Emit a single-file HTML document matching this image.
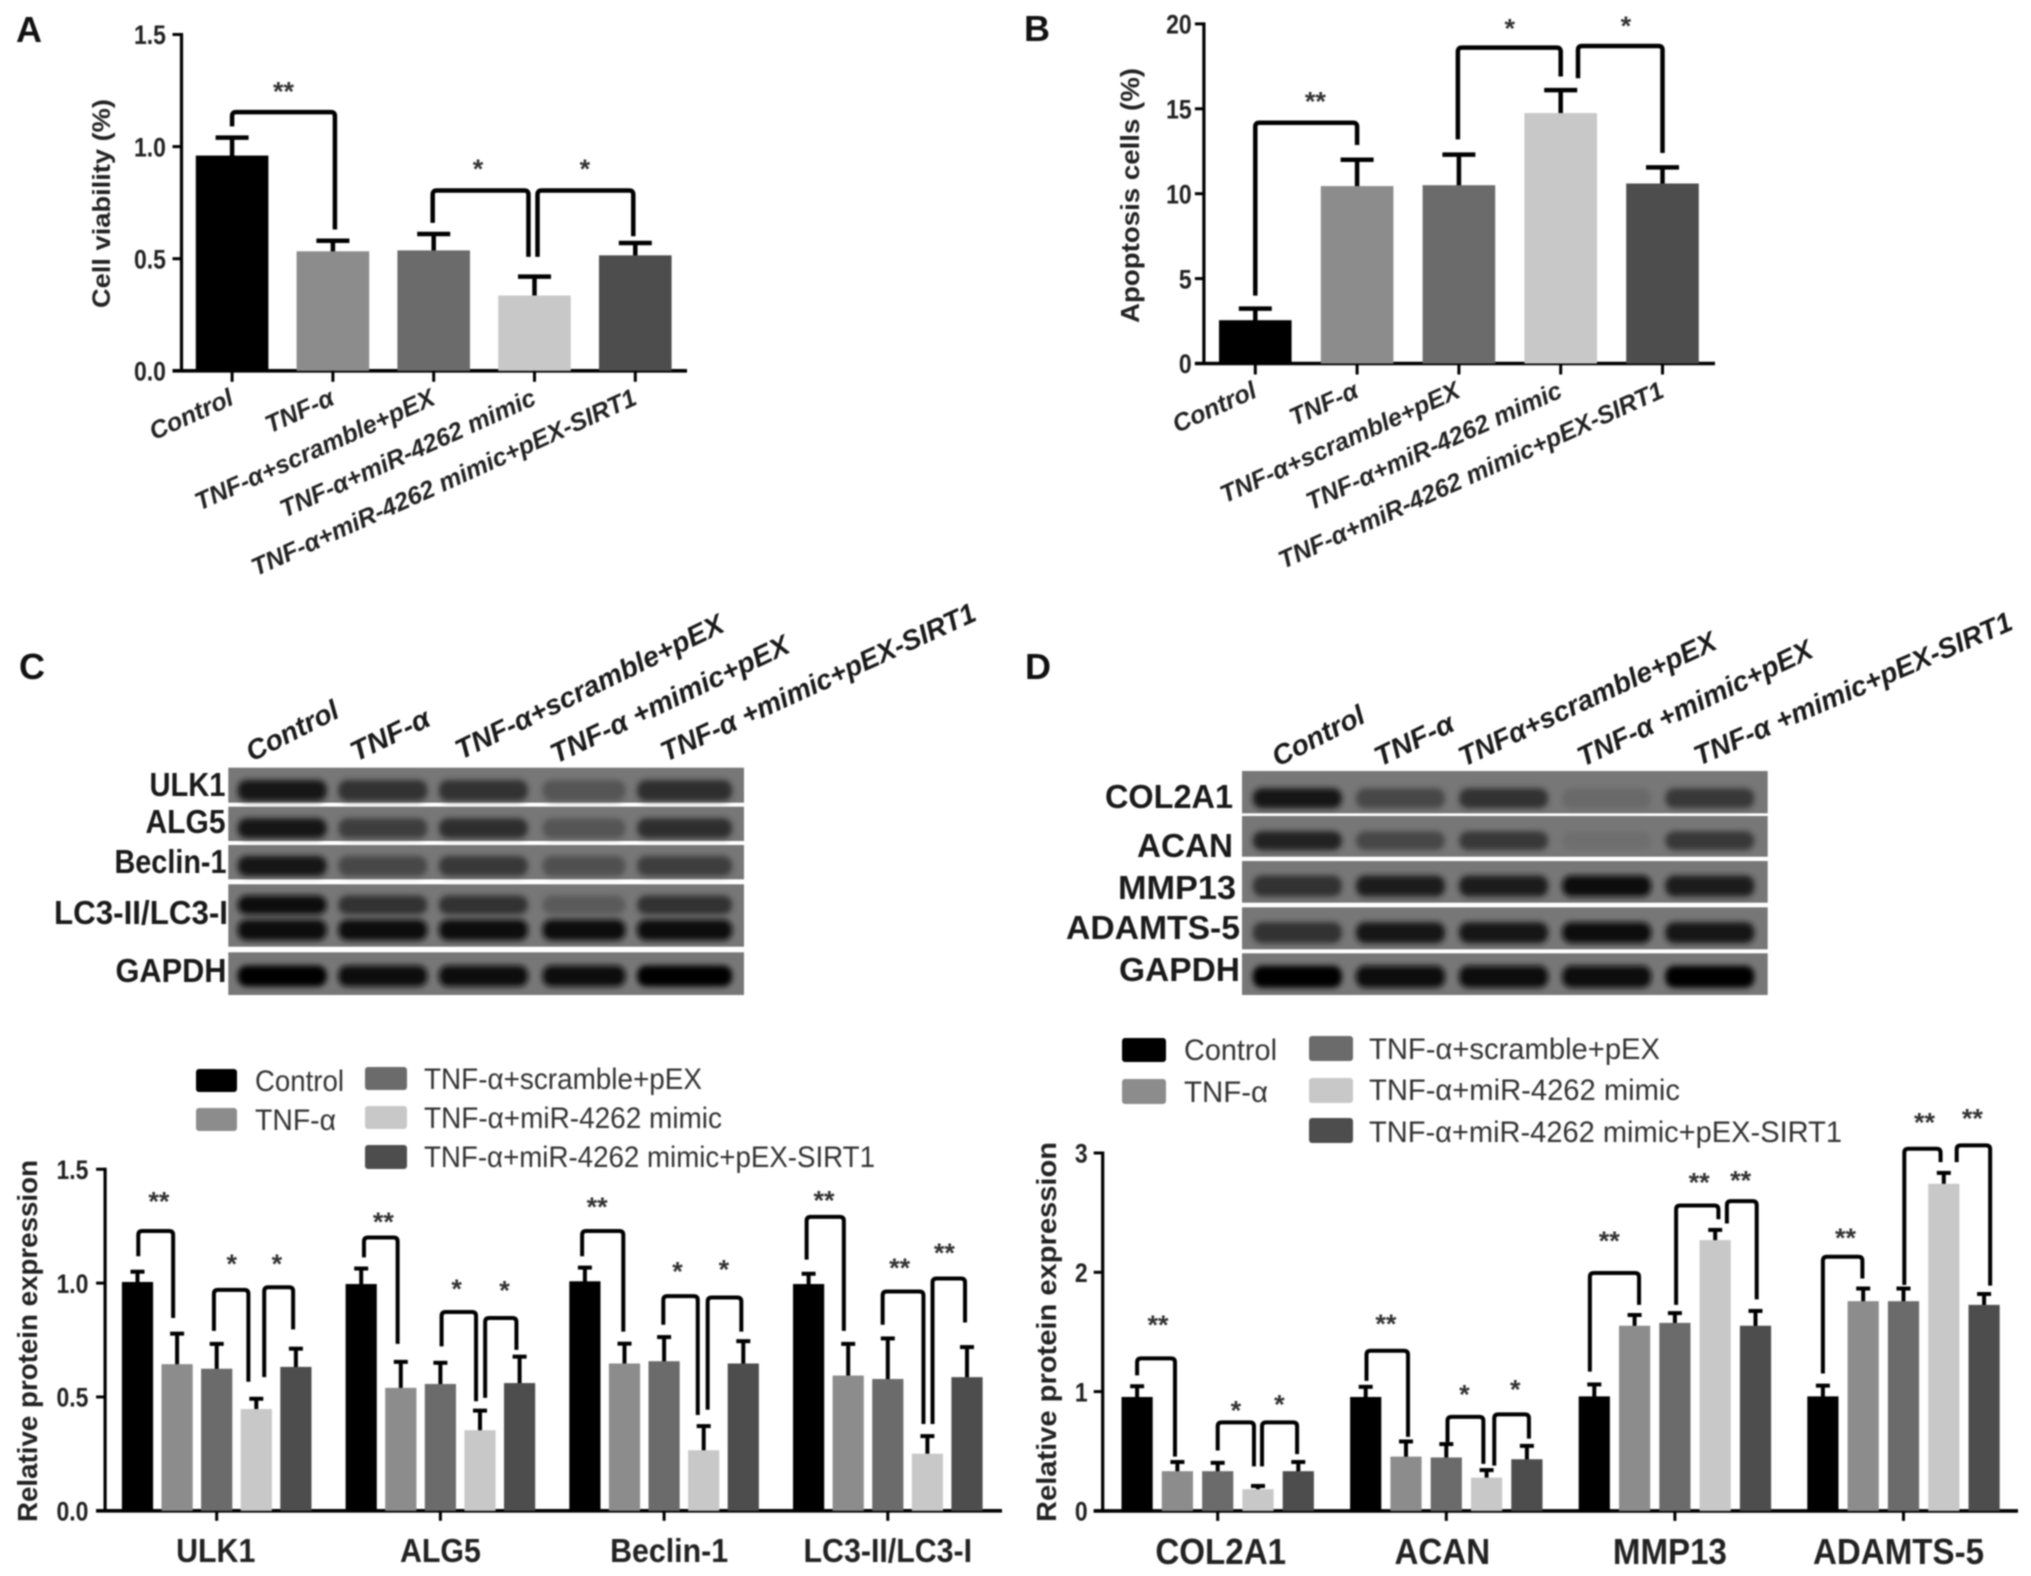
<!DOCTYPE html>
<html lang="en">
<head>
<meta charset="utf-8">
<title>Cell viability, apoptosis and protein expression panels</title>
<style>
html,body{margin:0;padding:0;background:#fff;width:2031px;height:1576px;overflow:hidden}
svg{display:block;filter:blur(0.7px);font-family:"Liberation Sans",sans-serif}
.panel-letter{font-size:36px;font-weight:bold;fill:#111}
.axis-title{font-weight:bold;fill:#222}
.row-label{font-size:33px;font-weight:bold;fill:#1a1a1a}
.lane-label{font-size:28px;font-weight:bold;font-style:italic;fill:#1a1a1a}
.legend-text{font-size:30px;fill:#333}
</style>
</head>
<body>
<svg id="figure" xmlns="http://www.w3.org/2000/svg" width="2031" height="1576" viewBox="0 0 2031 1576">
  <defs>
    <filter id="band-blur" x="-20%" y="-70%" width="140%" height="240%"><feGaussianBlur stdDeviation="3"/></filter>
  </defs>
  <rect width="2031" height="1576" fill="#fff"/>

  <text class="panel-letter" x="16" y="42">A</text>
  <text class="panel-letter" x="1024" y="41">B</text>
  <text class="panel-letter" x="19" y="679">C</text>
  <text class="panel-letter" x="1025" y="679">D</text>

  <text class="axis-title" font-size="25" transform="translate(110,308) rotate(-90)" textLength="209" lengthAdjust="spacingAndGlyphs">Cell viability (%)</text>
  <text class="axis-title" font-size="26" transform="translate(1139,323) rotate(-90)" textLength="255" lengthAdjust="spacingAndGlyphs">Apoptosis cells (%)</text>
  <text class="axis-title" font-size="28" transform="translate(37,1522) rotate(-90)" textLength="362" lengthAdjust="spacingAndGlyphs">Relative protein expression</text>
  <text class="axis-title" font-size="28" transform="translate(1056,1522) rotate(-90)" textLength="380" lengthAdjust="spacingAndGlyphs">Relative protein expression</text>

  <g id="blot-c"></g>
  <g id="blot-d"></g>

  <g>
    <text class="lane-label" transform="translate(252,762) rotate(-27)" textLength="100" lengthAdjust="spacingAndGlyphs">Control</text>
    <text class="lane-label" transform="translate(356,762) rotate(-26)" textLength="85" lengthAdjust="spacingAndGlyphs">TNF-α</text>
    <text class="lane-label" transform="translate(461,760) rotate(-26)" textLength="295" lengthAdjust="spacingAndGlyphs">TNF-α+scramble+pEX</text>
    <text class="lane-label" transform="translate(556,764) rotate(-25.5)" textLength="261" lengthAdjust="spacingAndGlyphs">TNF-α +mimic+pEX</text>
    <text class="lane-label" transform="translate(666,762) rotate(-24.5)" textLength="343" lengthAdjust="spacingAndGlyphs">TNF-α +mimic+pEX-SIRT1</text>
  </g>
  <g>
    <text class="row-label" x="149.5" y="796" textLength="76" lengthAdjust="spacingAndGlyphs">ULK1</text>
    <text class="row-label" x="145.5" y="833" textLength="80" lengthAdjust="spacingAndGlyphs">ALG5</text>
    <text class="row-label" x="114.5" y="873" textLength="112" lengthAdjust="spacingAndGlyphs">Beclin-1</text>
    <text class="row-label" x="54" y="924" textLength="174" lengthAdjust="spacingAndGlyphs">LC3-II/LC3-I</text>
    <text class="row-label" x="115.5" y="982" textLength="111" lengthAdjust="spacingAndGlyphs">GAPDH</text>
  </g>

  <g>
    <text class="lane-label" transform="translate(1278,767) rotate(-27)" textLength="100" lengthAdjust="spacingAndGlyphs">Control</text>
    <text class="lane-label" transform="translate(1380,767) rotate(-26)" textLength="85" lengthAdjust="spacingAndGlyphs">TNF-α</text>
    <text class="lane-label" transform="translate(1464,767) rotate(-25)" textLength="281" lengthAdjust="spacingAndGlyphs">TNFα+scramble+pEX</text>
    <text class="lane-label" transform="translate(1583,767) rotate(-25.5)" textLength="257" lengthAdjust="spacingAndGlyphs">TNF-α +mimic+pEX</text>
    <text class="lane-label" transform="translate(1699,766) rotate(-23.5)" textLength="344" lengthAdjust="spacingAndGlyphs">TNF-α +mimic+pEX-SIRT1</text>
  </g>
  <g>
    <text class="row-label" x="1105" y="808" textLength="128" lengthAdjust="spacingAndGlyphs">COL2A1</text>
    <text class="row-label" x="1137" y="857" textLength="96" lengthAdjust="spacingAndGlyphs">ACAN</text>
    <text class="row-label" x="1118" y="899" textLength="118" lengthAdjust="spacingAndGlyphs">MMP13</text>
    <text class="row-label" x="1066" y="939" textLength="174" lengthAdjust="spacingAndGlyphs">ADAMTS-5</text>
    <text class="row-label" x="1119" y="981" textLength="121" lengthAdjust="spacingAndGlyphs">GAPDH</text>
  </g>

  <g>
    <rect x="196" y="1069" width="41" height="23" rx="3" fill="#000"/>
    <rect x="196" y="1108" width="41" height="23" rx="3" fill="#8c8c8c"/>
    <rect x="365" y="1067" width="42" height="23" rx="3" fill="#6b6b6b"/>
    <rect x="365" y="1106" width="42" height="23" rx="3" fill="#c8c8c8"/>
    <rect x="365" y="1145" width="42" height="24" rx="3" fill="#4d4d4d"/>
    <text class="legend-text" x="255" y="1091" textLength="89" lengthAdjust="spacingAndGlyphs">Control</text>
    <text class="legend-text" x="255" y="1130" textLength="81" lengthAdjust="spacingAndGlyphs">TNF-α</text>
    <text class="legend-text" x="424" y="1089" textLength="278" lengthAdjust="spacingAndGlyphs">TNF-α+scramble+pEX</text>
    <text class="legend-text" x="424" y="1128" textLength="298" lengthAdjust="spacingAndGlyphs">TNF-α+miR-4262 mimic</text>
    <text class="legend-text" x="424" y="1167" textLength="451" lengthAdjust="spacingAndGlyphs">TNF-α+miR-4262 mimic+pEX-SIRT1</text>
  </g>
  <g>
    <rect x="1122" y="1038" width="44" height="24" rx="3" fill="#000"/>
    <rect x="1122" y="1079" width="44" height="25" rx="3" fill="#8c8c8c"/>
    <rect x="1309" y="1036" width="44" height="25" rx="3" fill="#6b6b6b"/>
    <rect x="1309" y="1078" width="44" height="25" rx="3" fill="#c8c8c8"/>
    <rect x="1309" y="1118" width="44" height="25" rx="3" fill="#4d4d4d"/>
    <text class="legend-text" x="1184" y="1060" textLength="93" lengthAdjust="spacingAndGlyphs">Control</text>
    <text class="legend-text" x="1184" y="1102" textLength="84" lengthAdjust="spacingAndGlyphs">TNF-α</text>
    <text class="legend-text" x="1369" y="1059" textLength="291" lengthAdjust="spacingAndGlyphs">TNF-α+scramble+pEX</text>
    <text class="legend-text" x="1369" y="1100" textLength="311" lengthAdjust="spacingAndGlyphs">TNF-α+miR-4262 mimic</text>
    <text class="legend-text" x="1369" y="1142" textLength="473" lengthAdjust="spacingAndGlyphs">TNF-α+miR-4262 mimic+pEX-SIRT1</text>
  </g>

  <g id="panel-a"></g>
  <g id="panel-b"></g>
  <g id="panel-c"></g>
  <g id="panel-d"></g>
</svg>

<script>
// ---------- Shared ----------
const seriesColors = ['#000000', '#8c8c8c', '#6b6b6b', '#c8c8c8', '#4d4d4d'];
const treatmentLabels = ['Control', 'TNF-α', 'TNF-α+scramble+pEX', 'TNF-α+miR-4262 mimic', 'TNF-α+miR-4262 mimic+pEX-SIRT1'];

// ---------- Panel A ----------
const panelATicks = ['0.0', '0.5', '1.0', '1.5'];
const panelAValues = [0.96, 0.533, 0.537, 0.336, 0.515];
const panelAErrorTops = [1.04, 0.58, 0.61, 0.42, 0.57];
// from bar, to bar, bracket top, left end, right end
const panelABrackets = [[0, 1.02, 1.154, 1.09, 0.63], [1.99, 2.94, 0.804, 0.66, 0.508], [3.03, 3.98, 0.804, 0.508, 0.60]];
const panelAStars = [[0.51, 1.274, '**'], [2.44, 0.929, '*'], [3.5, 0.929, '*']];

// ---------- Panel B ----------
const panelBTicks = ['0', '5', '10', '15', '20'];
const panelBValues = [2.55, 10.45, 10.5, 14.75, 10.6];
const panelBErrorTops = [3.23, 12.0, 12.3, 16.1, 11.55];
const panelBBrackets = [[0, 1, 14.18, 4.0, 12.87], [1.99, 3.0, 18.6, 13.2, 16.9], [3.17, 4.0, 18.7, 16.8, 12.4]];
const panelBStars = [[0.59, 15.8, '**'], [2.5, 20.1, '*'], [3.64, 20.27, '*']];

// ---------- Panel C ----------
const panelCTicks = ['0.0', '0.5', '1.0', '1.5'];
const panelCGroups = ['ULK1', 'ALG5', 'Beclin-1', 'LC3-II/LC3-I'];
const panelCControl = [1.005, 0.996, 1.008, 0.996];
const panelCTnf = [0.644, 0.54, 0.647, 0.594];
const panelCScramble = [0.624, 0.557, 0.657, 0.579];
const panelCMimic = [0.447, 0.354, 0.266, 0.251];
const panelCSirt1 = [0.632, 0.561, 0.647, 0.587];
const panelCControlErr = [1.05, 1.064, 1.068, 1.041];
const panelCTnfErr = [0.778, 0.654, 0.734, 0.733];
const panelCScrambleErr = [0.733, 0.65, 0.763, 0.757];
const panelCMimicErr = [0.492, 0.44, 0.372, 0.328];
const panelCSirt1Err = [0.712, 0.677, 0.745, 0.719];
// group, from bar, to bar, bracket top, left end, right end
const panelCBrackets = [
  [0, 0.02, 0.9, 1.229, 1.118, 0.847], [0, 1.93, 2.8, 0.97, 0.79, 0.567], [0, 3.2, 3.93, 0.982, 0.587, 0.797],
  [1, 0.07, 0.92, 1.2, 1.113, 0.733], [1, 2.03, 2.9, 0.873, 0.722, 0.481], [1, 3.13, 3.92, 0.847, 0.496, 0.707],
  [2, -0.07, 0.97, 1.229, 1.118, 0.787], [2, 1.98, 2.85, 0.943, 0.817, 0.421], [2, 3.1, 3.95, 0.937, 0.444, 0.787],
  [3, -0.05, 0.89, 1.291, 1.103, 0.79], [3, 1.87, 2.9, 0.963, 0.817, 0.381], [3, 3.13, 3.95, 1.02, 0.381, 0.827]
];
const panelCStars = [
  [0, 0.54, 1.387, '**'], [0, 2.38, 1.113, '*'], [0, 3.52, 1.113, '*'],
  [1, 0.56, 1.297, '**'], [1, 2.41, 1.003, '*'], [1, 3.62, 0.997, '*'],
  [2, 0.31, 1.362, '**'], [2, 2.34, 1.08, '*'], [2, 3.51, 1.088, '*'],
  [3, 0.39, 1.392, '**'], [3, 2.3, 1.094, '**'], [3, 3.43, 1.161, '**']
];

// ---------- Panel D ----------
const panelDTicks = ['0', '1', '2', '3'];
const panelDGroups = ['COL2A1', 'ACAN', 'MMP13', 'ADAMTS-5'];
const panelDControl = [0.955, 0.955, 0.96, 0.96];
const panelDTnf = [0.333, 0.455, 1.552, 1.758];
const panelDScramble = [0.333, 0.448, 1.576, 1.758];
const panelDMimic = [0.182, 0.279, 2.27, 2.742];
const panelDSirt1 = [0.333, 0.433, 1.552, 1.727];
const panelDControlErr = [1.045, 1.04, 1.06, 1.05];
const panelDTnfErr = [0.41, 0.582, 1.642, 1.864];
const panelDScrambleErr = [0.403, 0.56, 1.658, 1.864];
const panelDMimicErr = [0.209, 0.342, 2.355, 2.833];
const panelDSirt1Err = [0.41, 0.545, 1.676, 1.818];
const panelDBrackets = [
  [0, 0, 0.94, 1.279, 1.136, 0.455], [0, 2, 2.9, 0.742, 0.506, 0.373], [0, 3.1, 3.97, 0.742, 0.373, 0.476],
  [1, 0.02, 1.05, 1.342, 1.09, 0.621], [1, 2.03, 2.92, 0.788, 0.576, 0.394], [1, 3.19, 4.05, 0.809, 0.379, 0.606],
  [2, -0.11, 1.11, 1.994, 1.167, 1.727], [2, 2.03, 3.08, 2.56, 1.727, 2.445], [2, 3.29, 4.03, 2.597, 2.409, 1.773],
  [3, 0, 0.98, 2.13, 1.152, 1.948], [3, 2.02, 2.92, 3.036, 1.894, 2.924], [3, 3.32, 4.15, 3.064, 2.924, 1.888]
];
const panelDStars = [
  [0, 0.52, 1.612, '**'], [0, 2.45, 0.894, '*'], [0, 3.53, 0.948, '*'],
  [1, 0.5, 1.621, '**'], [1, 2.45, 1.03, '*'], [1, 3.71, 1.07, '*'],
  [2, 0.37, 2.318, '**'], [2, 2.6, 2.809, '**'], [2, 3.63, 2.824, '**'],
  [3, 0.56, 2.342, '**'], [3, 2.52, 3.312, '**'], [3, 3.71, 3.342, '**']
];

// ---------- Western blot band darkness (gray level per lane) ----------
const blotCUlk1 = [18, 50, 50, 85, 45];
const blotCAlg5 = [18, 60, 45, 85, 45];
const blotCBeclin = [25, 70, 55, 80, 60];
const blotCLc3Upper = [15, 50, 50, 90, 50];
const blotCLc3Lower = [10, 15, 15, 15, 8];
const blotCGapdh = [5, 8, 8, 8, 5];
const blotDCol2a1 = [20, 70, 50, 105, 55];
const blotDAcan = [35, 70, 55, 110, 55];
const blotDMmp13 = [50, 30, 28, 10, 28];
const blotDAdamts5 = [50, 25, 25, 8, 25];
const blotDGapdh = [5, 8, 10, 10, 5];

const SVG_NS = 'http://www.w3.org/2000/svg';
function add(parent, tag, attrs, text) {
  const el = document.createElementNS(SVG_NS, tag);
  for (const k in attrs) el.setAttribute(k, attrs[k]);
  if (text !== undefined) el.textContent = text;
  parent.appendChild(el);
  return el;
}

function bracketPath(xl, xr, yTop, yl, yr) {
  const r = 4;
  return 'M' + xl + ' ' + yl + 'V' + (yTop + r) + 'Q' + xl + ' ' + yTop + ' ' + (xl + r) + ' ' + yTop +
         'H' + (xr - r) + 'Q' + xr + ' ' + yTop + ' ' + xr + ' ' + (yTop + r) + 'V' + yr;
}

function drawStar(root, x, y, text) {
  const star = add(root, 'text', {x: x, y: y + 15.5, 'text-anchor': 'middle', 'font-size': 27, 'font-weight': 'bold', fill: '#333'}, text);
  
  
}

function drawBar(root, cx, width, base, top, errTop, color, capW, strokeW) {
  const stem = add(root, 'line', {x1: cx, x2: cx, y1: top + 2, y2: errTop, stroke: '#000', 'stroke-width': strokeW});
  
  
  const cap = add(root, 'line', {x1: cx - capW / 2, x2: cx + capW / 2, y1: errTop, y2: errTop, stroke: '#000', 'stroke-width': strokeW});
  
  
  const bar = add(root, 'rect', {x: cx - width / 2, y: top, width: width, height: base - top, fill: color});
  
  
}

function drawYAxis(root, ticks, yScale, axisX, xLeft, xRight, labelGap, fontSize) {
  const yAxis = add(root, 'line', {x1: axisX, x2: axisX, y1: yScale(parseFloat(ticks[ticks.length - 1])) - 1.5, y2: yScale(0) + 1.5, stroke: '#000', 'stroke-width': 3.2});
  
  
  const xAxis = add(root, 'line', {x1: xLeft, x2: xRight, y1: yScale(0), y2: yScale(0), stroke: '#000', 'stroke-width': 3.6});
  
  
  ticks.forEach(function (t) {
    const y = yScale(parseFloat(t));
    const tick = add(root, 'line', {x1: xLeft, x2: axisX, y1: y, y2: y, stroke: '#000', 'stroke-width': 3});
    
    
    const label = add(root, 'text', {transform: 'translate(' + (axisX - labelGap) + ' ' + (y + fontSize * 0.36) + ') scale(0.85 1)', 'text-anchor': 'end', 'font-size': fontSize, 'font-weight': 'bold', fill: '#222'}, t);
    
    
  });
}

function drawSimplePanel(root, ticks, values, errs, brackets, stars, xScale, yScale, axisX, xRight, labelGap) {
  const base = yScale(0);
  drawYAxis(root, ticks, yScale, axisX, axisX - 9, xRight, labelGap, 27);
  values.forEach(function (v, i) {
    drawBar(root, xScale(i), 72.6, base, yScale(v), yScale(errs[i]), seriesColors[i], 33, 4.5);
    const tick = add(root, 'line', {x1: xScale(i), x2: xScale(i), y1: base, y2: base + 11, stroke: '#000', 'stroke-width': 3});
    
    
    const ax = xScale(i) + 3;
    const ay = base + 33;
    const label = add(root, 'text', {x: ax, y: ay, 'text-anchor': 'end', 'font-size': 25, 'font-weight': 'bold', 'font-style': 'italic', fill: '#222', transform: 'rotate(-24.3 ' + ax + ' ' + ay + ')'}, treatmentLabels[i]);
    
    
  });
  brackets.forEach(function (b) {
    const path = add(root, 'path', {d: bracketPath(xScale(b[0]), xScale(b[1]), yScale(b[2]), yScale(b[3]), yScale(b[4])), fill: 'none', stroke: '#000', 'stroke-width': 4.5});
    
    
  });
  stars.forEach(function (s) {
    drawStar(root, xScale(s[0]), yScale(s[1]), s[2]);
  });
}

function drawGroupedPanel(root, ticks, groups, seriesVals, seriesErrs, brackets, stars, xScale, yScale, axisX, xRight, labelGap, groupFont, groupBaseline, labelNudge) {
  const base = yScale(0);
  drawYAxis(root, ticks, yScale, axisX, axisX - 9, xRight, labelGap, 27);
  groups.forEach(function (name, g) {
    seriesVals.forEach(function (vals, s) {
      drawBar(root, xScale(g, s), 31.2, base, yScale(vals[g]), yScale(seriesErrs[s][g]), seriesColors[s], 14, 4);
    });
    const cx = xScale(g, 2);
    const tick = add(root, 'line', {x1: cx, x2: cx, y1: base, y2: base + 10, stroke: '#000', 'stroke-width': 3});
    
    
    const label = add(root, 'text', {transform: 'translate(' + (cx + labelNudge(g)) + ' ' + groupBaseline + ') scale(0.92 1)', 'text-anchor': 'middle', 'font-size': groupFont, 'font-weight': 'bold', fill: '#222'}, name);
    
    
  });
  brackets.forEach(function (b) {
    const path = add(root, 'path', {d: bracketPath(xScale(b[0], b[1]), xScale(b[0], b[2]), yScale(b[3]), yScale(b[4]), yScale(b[5])), fill: 'none', stroke: '#000', 'stroke-width': 4});
    
    
  });
  stars.forEach(function (s) {
    drawStar(root, xScale(s[0], s[1]), yScale(s[2]), s[3]);
  });
}

function gray(level) {
  return 'rgb(' + level + ',' + level + ',' + level + ')';
}

// stripX0/stripX1: strip horizontal span. laneX/laneW: lane geometry functions. rows: [gray levels, band centre y, band height].
function drawStrip(root, x0, x1, top, bottom, laneX, laneW, rows) {
  const strip = add(root, 'rect', {x: x0, y: top, width: x1 - x0, height: bottom - top, fill: '#777777'});
  
  
  rows.forEach(function (row) {
    row[0].forEach(function (level, lane) {
      const band = add(root, 'rect', {x: laneX(lane) - laneW(lane) / 2, y: row[1] - row[2] / 2, width: laneW(lane), height: row[2], rx: 9, fill: gray(level), filter: 'url(#band-blur)'});
      
      
    });
  });
}

function laneCX(i) { return 282.2 + i * 100.6; }
function laneCW(i) { return 89 - (i === 3 ? 6 : 0) + (i === 4 ? 6 : 0); }
function laneDX(i) { return 1297.4 + i * 103.1; }
function laneDW(i) { return 89; }

const blotC = document.getElementById('blot-c');
drawStrip(blotC, 228.3, 744, 767.7, 802.7, laneCX, laneCW, [[blotCUlk1, 790.5, 21]]);
drawStrip(blotC, 228.3, 744, 806.7, 841, laneCX, laneCW, [[blotCAlg5, 828.3, 20]]);
drawStrip(blotC, 228.3, 744, 845, 879.3, laneCX, laneCW, [[blotCBeclin, 866, 20]]);
drawStrip(blotC, 228.3, 744, 884.3, 946.7, laneCX, laneCW, [[blotCLc3Upper, 905, 19], [blotCLc3Lower, 930, 21]]);
drawStrip(blotC, 228.3, 744, 952.3, 995, laneCX, laneCW, [[blotCGapdh, 976, 21]]);

const blotD = document.getElementById('blot-d');
drawStrip(blotD, 1242, 1767.7, 771, 813.3, laneDX, laneDW, [[blotDCol2a1, 798.3, 20]]);
drawStrip(blotD, 1242, 1767.7, 816, 856.7, laneDX, laneDW, [[blotDAcan, 840.7, 19]]);
drawStrip(blotD, 1242, 1767.7, 861, 902.7, laneDX, laneDW, [[blotDMmp13, 886, 21]]);
drawStrip(blotD, 1242, 1767.7, 907.3, 949.3, laneDX, laneDW, [[blotDAdamts5, 932.7, 21]]);
drawStrip(blotD, 1242, 1767.7, 953.3, 995, laneDX, laneDW, [[blotDGapdh, 976.7, 22]]);

drawSimplePanel(document.getElementById('panel-a'), panelATicks, panelAValues, panelAErrorTops, panelABrackets, panelAStars,
  function (i) { return 232.1 + i * 100.8; },
  function (v) { return 370.8 - v * 224.2; },
  181.5, 687, 15.6);

drawSimplePanel(document.getElementById('panel-b'), panelBTicks, panelBValues, panelBErrorTops, panelBBrackets, panelBStars,
  function (i) { return 1255.3 + i * 101.8; },
  function (v) { return 363.5 - v * 16.98; },
  1203.9, 1715, 12.3);

drawGroupedPanel(document.getElementById('panel-c'), panelCTicks, panelCGroups,
  [panelCControl, panelCTnf, panelCScramble, panelCMimic, panelCSirt1],
  [panelCControlErr, panelCTnfErr, panelCScrambleErr, panelCMimicErr, panelCSirt1Err],
  panelCBrackets, panelCStars,
  function (g, i) { return 137.5 + g * 223.7 + i * 39.6; },
  function (v) { return 1510.8 - v * 227.7; },
  105.1, 1002, 16.7, 33, 1562,
  function (g) { return g === 0 ? -1 : g === 2 ? 5 : 0; });

drawGroupedPanel(document.getElementById('panel-d'), panelDTicks, panelDGroups,
  [panelDControl, panelDTnf, panelDScramble, panelDMimic, panelDSirt1],
  [panelDControlErr, panelDTnfErr, panelDScrambleErr, panelDMimicErr, panelDSirt1Err],
  panelDBrackets, panelDStars,
  function (g, i) { return 1137.1 + g * 228.6 + i * 40.3; },
  function (v) { return 1510.9 - v * 119.3; },
  1102.7, 2018, 15, 36, 1564,
  function (g) { return g === 0 ? 3 : g === 1 ? -4 : -5; });
</script>
</body>
</html>
